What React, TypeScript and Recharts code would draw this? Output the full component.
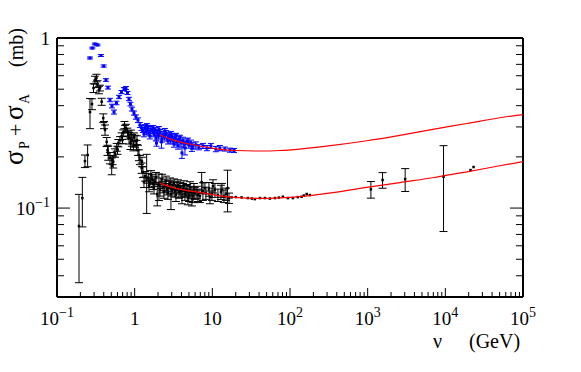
import React from "react";
import { ComposedChart, Scatter, XAxis, YAxis, ErrorBar, Label } from "recharts";

type Pt = [number, number, number]; // nu (GeV), sigma (mb), error (mb)

// black data set (lower)
const lowerPoints: Pt[] = [
  [0.192, 0.0784, 0.042], [0.212, 0.1145, 0.037], [0.229, 0.189, 0.016], [0.248, 0.205, 0.03],
  [0.266, 0.367, 0.074], [0.282, 0.409, 0.03], [0.295, 0.508, 0.03], [0.308, 0.566, 0.03],
  [0.322, 0.582, 0.03], [0.332, 0.536, 0.025], [0.347, 0.495, 0.025], [0.357, 0.508, 0.02],
  [0.376, 0.422, 0.02], [0.394, 0.338, 0.02], [0.403, 0.308, 0.015], [0.415, 0.288, 0.02],
  [0.436, 0.245, 0.015], [0.447, 0.219, 0.015], [0.457, 0.211, 0.02], [0.481, 0.197, 0.015],
  [0.506, 0.177, 0.02], [0.518, 0.192, 0.012], [0.53, 0.187, 0.015], [0.558, 0.211, 0.012],
  [0.587, 0.228, 0.012], [0.601, 0.219, 0.012], [0.615, 0.241, 0.012], [0.647, 0.251, 0.012],
  [0.68, 0.265, 0.012], [0.697, 0.251, 0.012], [0.713, 0.276, 0.012], [0.739, 0.308, 0.015],
  [0.75, 0.2915, 0.015], [0.773, 0.296, 0.015], [0.808, 0.28, 0.015], [0.832, 0.269, 0.015],
  [0.845, 0.258, 0.02], [0.883, 0.241, 0.02], [0.896, 0.2724, 0.015], [0.923, 0.251, 0.02],
  [0.965, 0.232, 0.015], [0.98, 0.2616, 0.015], [1.01, 0.248, 0.02], [1.055, 0.235, 0.015],
  [1.071, 0.251, 0.015], [1.103, 0.219, 0.015], [1.136, 0.205, 0.015], [1.17, 0.192, 0.012],
  [1.23, 0.172, 0.012], [1.242, 0.187, 0.012], [1.279, 0.163, 0.012], [1.317, 0.142, 0.01],
  [1.36, 0.154, 0.01], [1.427, 0.15, 0.057], [1.496, 0.15, 0.01], [1.528, 0.1347, 0.01],
  [1.57, 0.142, 0.01], [1.621, 0.156, 0.01], [1.67, 0.148, 0.01], [1.736, 0.1384, 0.01],
  [1.772, 0.1311, 0.01], [1.82, 0.1441, 0.01], [1.88, 0.152, 0.01], [1.954, 0.121, 0.018],
  [2.055, 0.1347, 0.024], [2.12, 0.1276, 0.01], [2.18, 0.1403, 0.01], [2.246, 0.148, 0.01],
  [2.313, 0.1329, 0.01], [2.383, 0.1242, 0.01], [2.45, 0.1366, 0.01], [2.528, 0.1441, 0.01],
  [2.604, 0.1294, 0.01], [2.683, 0.1225, 0.01], [2.763, 0.1347, 0.01], [2.85, 0.1403, 0.01],
  [2.932, 0.121, 0.023], [3.02, 0.1276, 0.01], [3.112, 0.1311, 0.01], [3.205, 0.1384, 0.01],
  [3.3, 0.1259, 0.01], [3.401, 0.1193, 0.01], [3.503, 0.1329, 0.01], [3.609, 0.1366, 0.01],
  [3.717, 0.1242, 0.01], [3.83, 0.1311, 0.01], [3.944, 0.1259, 0.01], [4.063, 0.116, 0.01],
  [4.184, 0.1294, 0.01], [4.311, 0.1347, 0.01], [4.44, 0.121, 0.01], [4.574, 0.1259, 0.01],
  [4.71, 0.1276, 0.01], [4.853, 0.1145, 0.01], [4.998, 0.1193, 0.01], [5.15, 0.1329, 0.01],
  [5.304, 0.1242, 0.01], [5.464, 0.1129, 0.01], [5.627, 0.1177, 0.01], [5.797, 0.1294, 0.01],
  [5.97, 0.1225, 0.01], [6.336, 0.1242, 0.01], [6.527, 0.1193, 0.01], [6.92, 0.1177, 0.01],
  [7.283, 0.142, 0.02], [7.568, 0.1259, 0.015], [8.03, 0.1311, 0.01], [8.27, 0.1225, 0.01],
  [9.04, 0.1294, 0.012], [9.31, 0.116, 0.01], [9.88, 0.121, 0.01], [10.2, 0.1347, 0.012],
  [10.8, 0.1276, 0.012], [11.8, 0.1193, 0.01], [12.9, 0.1242, 0.012], [13.3, 0.1276, 0.012],
  [14.1, 0.1177, 0.01], [15.0, 0.121, 0.01], [15.7, 0.131, 0.036], [16.4, 0.1145, 0.008],
  [17.7, 0.1156, 0], [20.1, 0.116, 0], [23.8, 0.1156, 0], [28.7, 0.1145, 0],
  [32.3, 0.1137, 0], [35.3, 0.1129, 0], [41.0, 0.1145, 0], [47.5, 0.1145, 0],
  [55.1, 0.1137, 0], [63.9, 0.1145, 0], [72.0, 0.1153, 0], [81.0, 0.1166, 0],
  [94.0, 0.1145, 0], [109, 0.1145, 0], [126, 0.116, 0], [141, 0.1166, 0],
  [151, 0.1185, 0], [164, 0.121, 0], [180, 0.1193, 0],
  [1100, 0.1288, 0.0144], [1555, 0.1462, 0.0154], [3040, 0.1479, 0.0227], [9480, 0.1528, 0.08],
  [21100, 0.1672, 0], [23100, 0.1743, 0],
];

// blue data set (upper)
const upperPoints: Pt[] = [
  [0.266, 0.763, 0.01], [0.285, 0.873, 0.01], [0.308, 0.922, 0.01], [0.332, 0.91, 0.01],
  [0.368, 0.789, 0.01], [0.399, 0.684, 0.01], [0.427, 0.566, 0.01], [0.453, 0.511, 0.01],
  [0.481, 0.432, 0.01], [0.51, 0.398, 0.01], [0.542, 0.367, 0.01], [0.583, 0.415, 0.01],
  [0.628, 0.45, 0.01], [0.676, 0.481, 0.01], [0.728, 0.501, 0.01], [0.773, 0.508, 0.01],
  [0.808, 0.475, 0.01], [0.845, 0.438, 0.01], [0.883, 0.409, 0.01], [0.923, 0.382, 0.01],
  [0.98, 0.362, 0.01], [1.039, 0.343, 0.01], [1.103, 0.329, 0.01], [1.17, 0.308, 0.01],
  [1.223, 0.296, 0.01], [1.279, 0.288, 0.01], [1.317, 0.2724, 0.01], [1.36, 0.2996, 0.01],
  [1.419, 0.28, 0.01], [1.44, 0.3037, 0.01], [1.484, 0.296, 0.01], [1.551, 0.276, 0.01],
  [1.57, 0.265, 0.01], [1.621, 0.2915, 0.01], [1.695, 0.2838, 0.01], [1.736, 0.296, 0.01],
  [1.772, 0.2724, 0.01], [1.852, 0.288, 0.01], [1.88, 0.258, 0.01], [1.91, 0.241, 0.01],
  [1.936, 0.276, 0.01], [2.024, 0.265, 0.01], [2.055, 0.2915, 0.01], [2.12, 0.28, 0.01],
  [2.213, 0.245, 0.02], [2.246, 0.2546, 0.01], [2.313, 0.2724, 0.01], [2.418, 0.2616, 0.01],
  [2.45, 0.2838, 0.01], [2.528, 0.276, 0.01], [2.642, 0.258, 0.01], [2.683, 0.248, 0.01],
  [2.763, 0.269, 0.01], [2.888, 0.251, 0.01], [2.932, 0.2724, 0.01], [3.02, 0.265, 0.01],
  [3.157, 0.248, 0.01], [3.205, 0.238, 0.01], [3.3, 0.2616, 0.01], [3.401, 0.265, 0.01],
  [3.503, 0.245, 0.01], [3.609, 0.232, 0.01], [3.717, 0.2546, 0.01], [3.83, 0.258, 0.01],
  [3.944, 0.241, 0.01], [4.063, 0.211, 0.015], [4.184, 0.251, 0.01], [4.311, 0.238, 0.01],
  [4.44, 0.2254, 0.02], [4.71, 0.245, 0.01], [4.853, 0.248, 0.01], [4.998, 0.235, 0.01],
  [5.304, 0.241, 0.01], [5.464, 0.2254, 0.01], [5.627, 0.232, 0.01], [6.15, 0.235, 0.01],
  [6.72, 0.228, 0.008], [7.568, 0.232, 0.008], [8.52, 0.2254, 0.008], [9.59, 0.232, 0.008],
  [11.1, 0.2224, 0.008], [12.5, 0.2254, 0.008], [14.5, 0.2224, 0.006], [16.9, 0.219, 0.006],
  [19.0, 0.218, 0.006],
];

// fitted curves
const upperFitNu = [2.12, 3.3, 5.97, 10.8, 19.5, 41, 74.1, 134, 357, 977, 2590, 6900, 18900, 50200, 100000];
const upperFitSigma = [0.2688, 0.2494, 0.2348, 0.2239, 0.218, 0.2165, 0.218, 0.2224, 0.2338, 0.2488, 0.2677, 0.2904, 0.3142, 0.3398, 0.3548];
const lowerFitNu = [2.12, 3.3, 5.97, 10.8, 19.5, 41, 74.1, 134, 357, 977, 2590, 6900, 18900, 50200, 100000];
const lowerFitSigma = [0.1397, 0.1311, 0.1247, 0.1193, 0.1156, 0.114, 0.1148, 0.1168, 0.1234, 0.1323, 0.1413, 0.1508, 0.1634, 0.1773, 0.1877];

const xDecades = [0.1, 1, 10, 100, 1000, 10000, 100000];
const yDecades = [0.01, 0.1, 1];
const minorSteps = [2, 3, 4, 5, 6, 7, 8, 9];
const X_DOMAIN: [number, number] = [0.1, 100000];
const Y_DOMAIN: [number, number] = [0.03, 1];

const SERIF = "'Liberation Serif', 'Times New Roman', serif";

const withMinor = (decades: number[]) =>
  decades.flatMap((d, i) => (i < decades.length - 1 ? [d, ...minorSteps.map((k) => d * k)] : [d]));
const xTicks = withMinor(xDecades);
const yTicks = withMinor(yDecades).filter((v) => v > 0.031 && v < 1.01);

const toRows = (pts: Pt[]) => pts.map(([nu, sigma, err]) => ({ nu, sigma, err }));
const fitRows = (nu: number[], sigma: number[]) => nu.map((n, i) => ({ nu: n, sigma: sigma[i] }));

const lowerData = toRows(lowerPoints);
const upperData = toRows(upperPoints);
const upperFit = fitRows(upperFitNu, upperFitSigma);
const lowerFit = fitRows(lowerFitNu, lowerFitSigma);

const isMajor = (v: number) => {
  const l = Math.log10(v);
  return Math.abs(l - Math.round(l)) < 1e-6;
};

function PowerText({ x, y, v, anchor }: { x: number; y: number; v: number; anchor: "middle" | "end" }) {
  const e = Math.round(Math.log10(v));
  const base = e === 0 ? "1" : "10";
  const exp = e === 0 || e === 1 ? "" : e < 0 ? "\u2212" + -e : String(e);
  return (
    <text x={x} y={y} textAnchor={anchor} fontFamily={SERIF} fontSize={19} fill="#000">
      {base}
      {exp && (
        <tspan dy={-8} fontSize={14}>
          {exp}
        </tspan>
      )}
    </text>
  );
}

// tick marks are drawn inside the frame, labels outside
const BottomTick = (props: any) => {
  const { x, y, payload } = props;
  const major = isMajor(payload.value);
  return (
    <g>
      <line x1={x} y1={y} x2={x} y2={y - (major ? 9 : 5)} stroke="#000" strokeWidth={1} />
      {major && <PowerText x={x} y={y + 28} v={payload.value} anchor="middle" />}
    </g>
  );
};

const TopTick = (props: any) => {
  const { x, y, payload } = props;
  const major = isMajor(payload.value);
  return <line x1={x} y1={y} x2={x} y2={y + (major ? 9 : 5)} stroke="#000" strokeWidth={1} />;
};

const LeftTick = (props: any) => {
  const { x, y, payload } = props;
  const major = isMajor(payload.value);
  return (
    <g>
      <line x1={x} y1={y} x2={x + (major ? 13 : 7)} y2={y} stroke="#000" strokeWidth={1} />
      {major && <PowerText x={x - 7} y={y + 7} v={payload.value} anchor="end" />}
    </g>
  );
};

const RightTick = (props: any) => {
  const { x, y, payload } = props;
  const major = isMajor(payload.value);
  return <line x1={x} y1={y} x2={x - (major ? 13 : 7)} y2={y} stroke="#000" strokeWidth={1} />;
};

const YTitle = (props: any) => {
  const vb = props.viewBox;
  const bx = vb.x + vb.width - 34;
  const by = vb.y + 127;
  return (
    <text transform={`translate(${bx},${by}) rotate(-90)`} fontFamily={SERIF} fill="#000">
      <tspan x={0} y={0} fontSize={27}>σ</tspan>
      <tspan x={16} y={6} fontSize={14}>P</tspan>
      <tspan x={29} y={0} fontSize={22}>+</tspan>
      <tspan x={45} y={0} fontSize={27}>σ</tspan>
      <tspan x={61} y={6} fontSize={14}>A</tspan>
      <tspan x={98} y={0} fontSize={20}>(mb)</tspan>
    </text>
  );
};

const XTitle = (props: any) => {
  const vb = props.viewBox;
  const x0 = vb.x + vb.width - 90;
  const y0 = vb.y + 51;
  return (
    <text fontFamily={SERIF} fontSize={20} fill="#000">
      <tspan x={x0} y={y0}>ν</tspan>
      <tspan x={x0 + 36} y={y0}>(GeV)</tspan>
    </text>
  );
};

const square = (size: number, color: string) => (props: any) => (
  <rect x={props.cx - size / 2} y={props.cy - size / 2} width={size} height={size} fill={color} />
);

const noDot = () => <g />;

export default function App() {
  const frame = { stroke: "#000", strokeWidth: 2 };
  return (
    <div style={{ position: "absolute", left: 0, top: 0, background: "#fff" }}>
      <ComposedChart
        width={581}
        height={372}
        margin={{ top: 37, right: 57, bottom: 74, left: 56 }}
      >
        <XAxis
          xAxisId="x"
          dataKey="nu"
          type="number"
          scale="log"
          domain={X_DOMAIN}
          allowDataOverflow
          ticks={xTicks}
          interval={0}
          height={1}
          tickSize={0}
          tickMargin={0}
          tickLine={false}
          axisLine={frame}
          tick={<BottomTick />}
        >
          <Label content={<XTitle />} />
        </XAxis>
        <XAxis
          xAxisId="xTop"
          orientation="top"
          type="number"
          scale="log"
          domain={X_DOMAIN}
          allowDataOverflow
          ticks={xTicks}
          interval={0}
          height={1}
          tickSize={0}
          tickMargin={0}
          tickLine={false}
          axisLine={frame}
          tick={<TopTick />}
        />
        <YAxis
          yAxisId="y"
          dataKey="sigma"
          type="number"
          scale="log"
          domain={Y_DOMAIN}
          allowDataOverflow
          ticks={yTicks}
          interval={0}
          width={1}
          tickSize={0}
          tickMargin={0}
          tickLine={false}
          axisLine={frame}
          tick={<LeftTick />}
        >
          <Label content={<YTitle />} />
        </YAxis>
        <YAxis
          yAxisId="yRight"
          orientation="right"
          type="number"
          scale="log"
          domain={Y_DOMAIN}
          allowDataOverflow
          ticks={yTicks}
          interval={0}
          width={1}
          tickSize={0}
          tickMargin={0}
          tickLine={false}
          axisLine={frame}
          tick={<RightTick />}
        />

        <Scatter
          xAxisId="x"
          yAxisId="y"
          data={upperData}
          shape={square(3, "#0000ff")}
          isAnimationActive={false}
        >
          <ErrorBar dataKey="err" direction="y" width={3} stroke="#0000ff" strokeWidth={1} />
        </Scatter>
        <Scatter
          xAxisId="x"
          yAxisId="y"
          data={lowerData}
          shape={square(2.5, "#000")}
          isAnimationActive={false}
        >
          <ErrorBar dataKey="err" direction="y" width={4} stroke="#000" strokeWidth={1} />
        </Scatter>
        <Scatter
          xAxisId="x"
          yAxisId="y"
          data={upperFit}
          line={{ stroke: "#ff0000", strokeWidth: 1.2 }}
          lineJointType="monotoneX"
          shape={noDot}
          isAnimationActive={false}
        />
        <Scatter
          xAxisId="x"
          yAxisId="y"
          data={lowerFit}
          line={{ stroke: "#ff0000", strokeWidth: 1.2 }}
          lineJointType="monotoneX"
          shape={noDot}
          isAnimationActive={false}
        />
      </ComposedChart>
    </div>
  );
}
